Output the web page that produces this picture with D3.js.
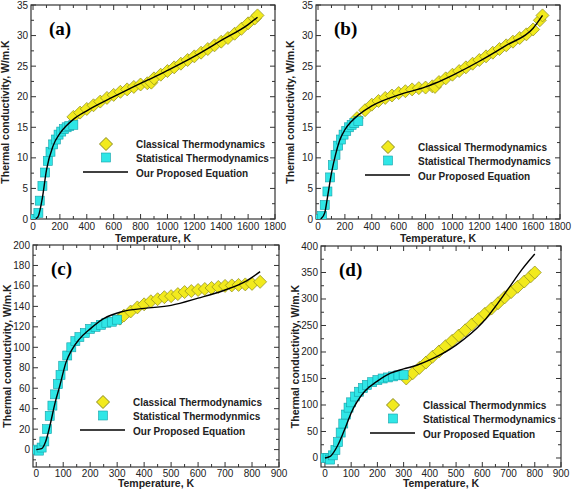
<!DOCTYPE html>
<html><head><meta charset="utf-8">
<script src="https://cdn.jsdelivr.net/npm/d3@7"></script>
<style>body{margin:0;background:#fff}text{font-family:"Liberation Sans",Arial,sans-serif}</style>
</head><body><svg id="c" width="575" height="491"></svg>
<script>
// ── Données ─────────────────────────────────────────────────────────────
const aSqT = [10,40,50,70,90,110,130,150,170,190,210,230,250,270,300];
const aSqK = [0,1,3,5.4,7.6,9.5,11,12.2,13,13.8,14.3,14.7,15,15.2,15.4];
const aDiT = [300,350,400,450,500,550,600,650,700,750,800,850,880,900,950,1000,1050,1100,1150,1200,1250,1300,1350,1400,1450,1500,1550,1600,1650,1670];
const aDiK = [16.7,17.4,18,18.6,19.2,19.8,20.3,20.8,21.2,21.6,22,22.2,22.3,23,23.6,24.2,24.8,25.4,26,26.6,27.2,27.8,28.4,29,29.6,30.3,31.1,32,32.8,33.3];
const aLnT = [20,40,70,100,150,200,250,300,400,600,800,900,1000,1200,1400,1600,1670];
const aLnK = [0,0.5,3.5,8,12,14,15.3,16.3,17.7,20,22.2,23.2,24.3,26.6,29.2,31.8,33];

const bSqT = [10,30,50,70,90,110,130,150,170,190,210,230,250,270,300];
const bSqK = [0,0.5,2.3,4.5,6.8,8.8,10.5,12,13,13.8,14.4,15,15.4,15.7,16];
const bDiT = [290,350,400,450,500,550,600,650,700,750,800,850,870,900,950,1000,1050,1100,1150,1200,1250,1300,1350,1400,1450,1500,1550,1600,1650,1670];
const bDiK = [16.5,17.8,18.7,19.3,19.8,20.2,20.6,20.9,21.2,21.4,21.5,21.7,21.6,22.4,23,23.6,24.2,24.8,25.4,26,26.6,27.2,27.8,28.4,29,29.6,30.2,31,32.5,33.3];
const bLnT = [20,50,70,100,130,160,200,250,300,400,600,800,870,1000,1200,1400,1600,1670];
const bLnK = [0,1,3.5,7.5,10.5,12.8,14.6,16,17,18.5,20.3,21.6,22.2,23.5,25.8,28.4,31.2,33.3];

const cSqT = [0,10,20,30,40,50,60,70,80,90,100,115,130,145,160,180,200,220,240,260,280,300];
const cSqK = [0,-1,2,8,20,33,43,54,64,73,82,92,100,106,110,114,118,120,122,124,125,127];
const cDiT = [310,325,350,375,400,425,450,475,500,525,550,575,600,625,650,675,700,725,750,775,800,830];
const cDiK = [128,131,135,139,142,145,147,149,150,152,154,155,156,157,158,159,160,160.5,161,161.5,162,164];
const cLnT = [0,20,35,53,70,87,110,133,160,200,250,320,400,500,600,700,780,830];
const cLnK = [0,1,8,26,46,62,85,98,108,118,128,135,138,141,148,156,165,174];

const dSqT = [0,10,20,30,40,50,60,70,80,90,100,115,130,145,160,180,200,220,240,260,280,300];
const dSqK = [0,0,-3,5,15,30,48,65,82,95,105,116,125,132,138,143,147,150,152,154,156,157];
const dDiT = [310,335,360,385,410,435,460,485,510,535,560,585,610,635,660,685,710,735,760,785,800];
const dDiK = [150,160,170,180,191,201,211,221,231,241,252,262,272,282,292,303,313,323,333,343,350];
const dLnT = [0,20,50,80,100,150,200,250,300,350,400,500,600,700,750,800];
const dLnK = [0,3,25,60,85,125,145,160,168,175,185,213,255,320,355,385];

const panels = [
  {lab:'(a)', box:[31,5,275,219], x:[-15,1800], y:[0,35], xt:d3.range(0,1801,200), yt:d3.range(0,36,5), xm:100, ym:2.5,
   sq:[aSqT,aSqK], di:[aDiT,aDiK], ln:[aLnT,aLnK], leg:[106,144], stat:'Statistical Thermodynamics', cls:'Classical Thermodynamics'},
  {lab:'(b)', box:[316,5,560,219], x:[-15,1800], y:[0,35], xt:d3.range(0,1801,200), yt:d3.range(0,36,5), xm:100, ym:2.5,
   sq:[bSqT,bSqK], di:[bDiT,bDiK], ln:[bLnT,bLnK], leg:[388,147], stat:'Statistical Thermodynamics', cls:'Classical Thermodynamics'},
  {lab:'(c)', box:[33,245,279,467], x:[-12,900], y:[-17,200], xt:d3.range(0,901,100), yt:d3.range(0,201,20), xm:50, ym:10,
   sq:[cSqT,cSqK], di:[cDiT,cDiK], ln:[cLnT,cLnK], leg:[103,402], stat:'Statistical Thermodynmics', cls:'Classical Thermodynamics'},
  {lab:'(d)', box:[321,246,561,467], x:[-15,900], y:[-17,400], xt:d3.range(0,901,100), yt:d3.range(0,401,50), xm:50, ym:25,
   sq:[dSqT,dSqK], di:[dDiT,dDiK], ln:[dLnT,dLnK], leg:[393,405], stat:'Statistical Thermodynamics', cls:'Classical Thermodynmics'},
];

const svg = d3.select('#c');

for (const p of panels) {
  const [L,T,R,B] = p.box;
  const x = d3.scaleLinear().domain(p.x).range([L,R]);
  const y = d3.scaleLinear().domain(p.y).range([B,T]);
  const g = svg.append('g');
  const bottomRow = T > 200;

  // cadre + graduations (vers l'intérieur, style Tecplot)
  g.append('rect').attr('x',L).attr('y',T).attr('width',R-L).attr('height',B-T)
    .attr('fill','none').attr('stroke','#333').attr('stroke-width',1.2);
  const xMin = d3.range(Math.ceil(p.x[0]/p.xm)*p.xm, p.x[1]+1e-9, p.xm);
  const yMin = d3.range(Math.ceil(p.y[0]/p.ym)*p.ym, p.y[1]+1e-9, p.ym);
  for (const v of xMin) {
    const len = p.xt.includes(v) ? 5 : 3;
    g.append('line').attr('x1',x(v)).attr('x2',x(v)).attr('y1',B).attr('y2',B-len).attr('stroke','#333');
    g.append('line').attr('x1',x(v)).attr('x2',x(v)).attr('y1',T).attr('y2',T+len).attr('stroke','#333');
  }
  for (const v of yMin) {
    const len = p.yt.includes(v) ? 5 : 3;
    g.append('line').attr('y1',y(v)).attr('y2',y(v)).attr('x1',L).attr('x2',L+len).attr('stroke','#333');
    g.append('line').attr('y1',y(v)).attr('y2',y(v)).attr('x1',R).attr('x2',R-len).attr('stroke','#333');
  }
  g.selectAll('.xt').data(p.xt).join('text').attr('x',d=>x(d)).attr('y',B+(bottomRow?10:11))
    .attr('text-anchor','middle').style('font-size','10px').attr('fill','#222').text(d=>d);
  g.selectAll('.yt').data(p.yt).join('text').attr('x',L-3).attr('y',d=>y(d)+3.5)
    .attr('text-anchor','end').style('font-size','10px').attr('fill','#222').text(d=>d);

  g.append('text').attr('x',(L+R)/2).attr('y',B+(bottomRow?20:23)).attr('text-anchor','middle')
    .style('font-size','10.5px').style('font-weight','bold').attr('fill','#222').text('Temperature, K');
  g.append('text').attr('transform',`translate(${L-22},${(T+B)/2}) rotate(-90)`).attr('text-anchor','middle')
    .style('font-size','10.5px').style('font-weight','bold').attr('fill','#222').text('Thermal conductivity, W/m.K');

  g.append('text').attr('x',L+18).attr('y',T+30).style('font-family','"Liberation Serif",serif')
    .style('font-size','19px').style('font-weight','bold').text(p.lab);

  // marqueurs
  const clip = 'clip' + p.lab[1];
  svg.append('clipPath').attr('id',clip).append('rect').attr('x',L).attr('y',T).attr('width',R-L).attr('height',B-T);
  const m = g.append('g').attr('clip-path',`url(#${clip})`);
  const diamond = (cx,cy,r) => `M${cx},${cy-r}L${cx+r},${cy}L${cx},${cy+r}L${cx-r},${cy}Z`;
  m.selectAll('.di').data(p.di[0]).join('path')
    .attr('d',(d,i)=>diamond(x(d),y(p.di[1][i]),6.5))
    .attr('fill','#f2ea1d').attr('stroke','#8a8a20').attr('stroke-width',0.7);
  m.selectAll('.sq').data(p.sq[0]).join('rect')
    .attr('x',d=>x(d)-4.5).attr('y',(d,i)=>y(p.sq[1][i])-4.5).attr('width',9).attr('height',9)
    .attr('fill','#2fe6e6').attr('stroke','#16a0a8').attr('stroke-width',0.6);
  const line = d3.line().x(d=>x(d[0])).y(d=>y(d[1])).curve(d3.curveMonotoneX);
  m.append('path').datum(p.ln[0].map((t,i)=>[t,p.ln[1][i]])).attr('d',line)
    .attr('fill','none').attr('stroke','#000').attr('stroke-width',1.4);

  // légende
  const [lx,ly] = p.leg;
  g.append('path').attr('d',diamond(lx,ly,6.5)).attr('fill','#f2ea1d').attr('stroke','#8a8a20');
  g.append('rect').attr('x',lx-4.5).attr('y',ly+9).attr('width',9).attr('height',9)
    .attr('fill','#2fe6e6').attr('stroke','#16a0a8').attr('stroke-width',0.6);
  g.append('line').attr('x1',lx-23).attr('x2',lx+22).attr('y1',ly+28).attr('y2',ly+28).attr('stroke','#000').attr('stroke-width',1.4);
  [p.cls,p.stat,'Our Proposed Equation'].forEach((t,i)=>{
    g.append('text').attr('x',lx+30).attr('y',ly+4+i*14.3).style('font-size','10px')
      .style('font-weight','bold').attr('fill','#222').text(t);
  });
}
</script></body></html>
